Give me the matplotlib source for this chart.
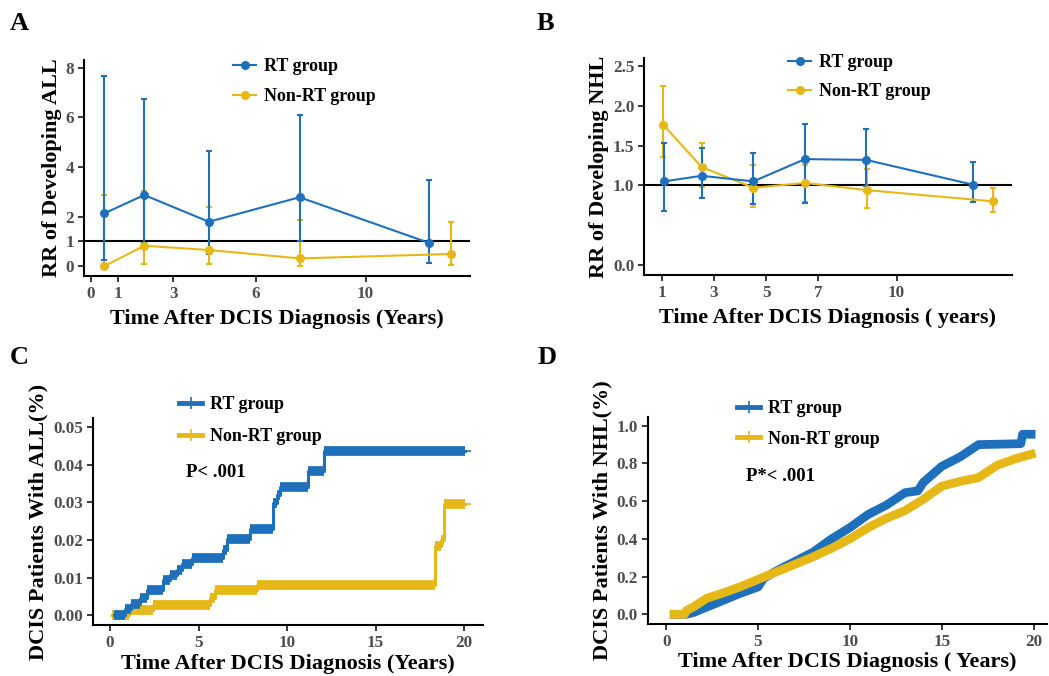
import numpy as np
import matplotlib
matplotlib.use("Agg")
import matplotlib.pyplot as plt
from matplotlib.lines import Line2D

plt.rcParams["font.family"] = ["Liberation Serif", "DejaVu Serif"]
plt.rcParams["font.weight"] = "bold"

BLUE = "#1F70BC"
YELLOW = "#E6B817"
TICK_GREY = "#4D4D4D"

# Panel A: RR of developing ALL
a_x_rt = [0.5, 1.95, 4.3, 7.6, 12.3]
a_rr_rt = [2.13, 2.87, 1.79, 2.78, 0.94]
a_lo_rt = [0.24, 0.94, 0.49, 1.03, 0.11]
a_hi_rt = [7.69, 6.75, 4.63, 6.09, 3.48]
a_x_non = [0.5, 1.95, 4.3, 7.6, 13.1]
a_rr_non = [0.0, 0.82, 0.65, 0.31, 0.49]
a_lo_non = [0.0, 0.08, 0.07, 0.0, 0.04]
a_hi_non = [2.87, 3.05, 2.40, 1.86, 1.79]
a_xticks = [0, 1, 3, 6, 10]
a_yticks = [0, 1, 2, 4, 6, 8]

# Panel B: RR of developing NHL
b_x_rt = [1.09, 2.53, 4.51, 6.49, 8.83, 12.91]
b_rr_rt = [1.05, 1.12, 1.05, 1.33, 1.32, 1.01]
b_lo_rt = [0.68, 0.84, 0.77, 0.78, 0.99, 0.79]
b_hi_rt = [1.53, 1.47, 1.41, 1.77, 1.71, 1.29]
b_x_non = [1.06, 2.53, 4.51, 6.49, 8.86, 13.68]
b_rr_non = [1.76, 1.23, 0.97, 1.03, 0.94, 0.80]
b_lo_non = [1.36, 0.98, 0.73, 0.79, 0.72, 0.66]
b_hi_non = [2.25, 1.53, 1.26, 1.25, 1.21, 0.97]
b_xticks = [1, 3, 5, 7, 10]
b_yticks = [0.0, 1.0, 1.5, 2.0, 2.5]

# Panel C: cumulative incidence of ALL (step curves)
c_t_rt = [0.2, 0.85, 1.2, 1.7, 2.07, 3.0, 3.4, 3.76, 4.05, 4.6, 6.4, 6.6, 7.9,
          9.2, 9.4, 9.6, 11.2, 12.1, 20.05]
c_y_rt = [0.0, 0.0016, 0.003, 0.0045, 0.0066, 0.0094, 0.0107, 0.012, 0.0135,
          0.0153, 0.0173, 0.0202, 0.0229, 0.0297, 0.032, 0.0341, 0.0383,
          0.0436, 0.0436]
c_t_non = [0.1, 1.05, 2.4, 5.65, 5.9, 8.3, 18.35, 18.7, 18.85, 20.05]
c_y_non = [0.0, 0.0013, 0.0027, 0.0045, 0.0066, 0.0081, 0.0185, 0.0200,
           0.0295, 0.0295]
c_xticks = [0, 5, 10, 15, 20]
c_yticks = [0.00, 0.01, 0.02, 0.03, 0.04, 0.05]

# Panel D: cumulative incidence of NHL
d_t_rt = [0.2, 1.1, 1.5, 2.0, 3.0, 4.0, 5.0, 5.3, 6.0, 7.0, 8.0, 9.0, 10.0,
          11.0, 12.0, 13.0, 13.7, 14.0, 15.0, 16.0, 17.0, 19.3, 19.4, 20.1]
d_y_rt = [0.0, 0.0, 0.01, 0.03, 0.07, 0.11, 0.145, 0.19, 0.23, 0.28, 0.33,
          0.40, 0.46, 0.53, 0.58, 0.645, 0.655, 0.70, 0.785, 0.835, 0.90,
          0.905, 0.955, 0.955]
d_t_non = [0.2, 1.0, 1.1, 1.5, 2.2, 3.0, 4.0, 5.0, 6.0, 7.0, 8.0, 9.0, 10.0,
           11.0, 12.0, 13.0, 14.0, 15.0, 16.0, 17.0, 18.0, 19.0, 20.1]
d_y_non = [0.0, 0.0, 0.02, 0.04, 0.085, 0.11, 0.145, 0.185, 0.225, 0.265,
           0.305, 0.35, 0.40, 0.46, 0.51, 0.55, 0.61, 0.68, 0.705, 0.725,
           0.79, 0.825, 0.855]
d_xticks = [0, 5, 10, 15, 20]
d_yticks = [0.0, 0.2, 0.4, 0.6, 0.8, 1.0]


def style_axes(ax, xticks, yticks, yfmt, xlabel, ylabel, xpad=5):
    """Classic ggplot-like look: only left and bottom spines, grey labels."""
    for side in ["top", "right"]:
        ax.spines[side].set_visible(False)
    for side in ["left", "bottom"]:
        ax.spines[side].set_linewidth(1.5)
    ax.set_xticks(xticks)
    ax.set_yticks(yticks)
    ax.set_yticklabels([yfmt.format(v) for v in yticks])
    ax.tick_params(length=4, width=1.1, colors="black", labelcolor=TICK_GREY,
                   labelsize=12.3, pad=3)
    for lab in ax.get_xticklabels() + ax.get_yticklabels():
        lab.set_fontweight("bold")
    ax.set_xlabel(xlabel, fontsize=16, fontweight="bold", labelpad=xpad)
    ax.set_ylabel(ylabel, fontsize=16, fontweight="bold", labelpad=3)


def plot_rr(ax, x, rr, lo, hi, color):
    """Line with points and asymmetric error bars."""
    rr = np.asarray(rr)
    yerr = [rr - np.asarray(lo), np.asarray(hi) - rr]
    ax.errorbar(x, rr, yerr=yerr, color=color, marker="o", markersize=5.5,
                linewidth=1.5, elinewidth=1.5, capsize=2.5, capthick=1.5,
                zorder=3)


def plot_km(ax, t, y, color, step=True):
    """Thick cumulative incidence curve: thick flat parts, thin risers."""
    if step:
        ax.step(t, y, where="post", color=color, linewidth=2.2, zorder=3)
        ax.hlines(y[:-1], t[:-1], t[1:], color=color, linewidth=7, zorder=3)
        ax.plot([t[-1]], [y[-1]], marker="_", markersize=9, mew=1.2,
                color=color, zorder=3)
    else:
        ax.plot(t, y, color=color, linewidth=6.3, zorder=3,
                solid_capstyle="butt")


fig = plt.figure(figsize=(10.49, 6.76), dpi=100)

ax_a = fig.add_axes([0.0801, 0.5917, 0.368, 0.3195])
ax_b = fig.add_axes([0.6139, 0.5932, 0.3508, 0.321])
ax_c = fig.add_axes([0.0884, 0.0754, 0.372, 0.306])
ax_d = fig.add_axes([0.6175, 0.0770, 0.381, 0.306])

# A
ax_a.axhline(1, color="black", linewidth=1.5, zorder=1)
plot_rr(ax_a, a_x_non, a_rr_non, a_lo_non, a_hi_non, YELLOW)
plot_rr(ax_a, a_x_rt, a_rr_rt, a_lo_rt, a_hi_rt, BLUE)
ax_a.set_xlim(-0.24, 13.8)
ax_a.set_ylim(-0.40, 8.32)
style_axes(ax_a, a_xticks, a_yticks, "{:g}",
           "Time After DCIS Diagnosis (Years)", "RR of Developing ALL")

# B
ax_b.axhline(1, color="black", linewidth=1.5, zorder=1)
plot_rr(ax_b, b_x_non, b_rr_non, b_lo_non, b_hi_non, YELLOW)
plot_rr(ax_b, b_x_rt, b_rr_rt, b_lo_rt, b_hi_rt, BLUE)
ax_b.set_xlim(0.32, 14.42)
ax_b.set_ylim(-0.126, 2.6)
style_axes(ax_b, b_xticks, b_yticks, "{:.1f}",
           "Time After DCIS Diagnosis ( years)", "RR of Developing NHL")

# C
plot_km(ax_c, c_t_non, c_y_non, YELLOW)
plot_km(ax_c, c_t_rt, c_y_rt, BLUE)
ax_c.set_xlim(-0.98, 21.06)
ax_c.set_ylim(-0.00257, 0.0523)
style_axes(ax_c, c_xticks, c_yticks, "{:.2f}",
           "Time After DCIS Diagnosis (Years)", "DCIS Patients With ALL(%)",
           xpad=2)
ax_c.text(0.239, 0.739, "P< .001", transform=ax_c.transAxes, fontsize=13.5,
          fontweight="bold", va="center")

# D
plot_km(ax_d, d_t_rt, d_y_rt, BLUE, step=False)
plot_km(ax_d, d_t_non, d_y_non, YELLOW, step=False)
ax_d.set_xlim(-1.0, 20.75)
ax_d.set_ylim(-0.051, 1.046)
style_axes(ax_d, d_xticks, d_yticks, "{:.1f}",
           "Time After DCIS Diagnosis ( Years)", "DCIS Patients With NHL(%)",
           xpad=2)
ax_d.text(0.246, 0.715, "P*< .001", transform=ax_d.transAxes, fontsize=13.5,
          fontweight="bold", va="center")

# Legends
rr_handles = [
    Line2D([], [], color=BLUE, marker="o", markersize=5.5, linewidth=1.5),
    Line2D([], [], color=YELLOW, marker="o", markersize=5.5, linewidth=1.5),
]
km_handles = [
    Line2D([], [], color=BLUE, marker="+", markersize=9, mew=1.2,
           linewidth=3.5),
    Line2D([], [], color=YELLOW, marker="+", markersize=9, mew=1.2,
           linewidth=3.5),
]
labels = ["RT group", "Non-RT group"]
leg_kw = dict(frameon=False, fontsize=13, handlelength=1.3, handletextpad=0.4,
              borderaxespad=0, borderpad=0)
for ax, handles, pos, spacing in [
    (ax_a, rr_handles, (233 / 1049, 1 - 58 / 676), 0.72),
    (ax_b, rr_handles, (788 / 1049, 1 - 54 / 676), 0.68),
    (ax_c, km_handles, (179 / 1049, 1 - 396 / 676), 0.85),
    (ax_d, km_handles, (737 / 1049, 1 - 400 / 676), 0.75),
]:
    leg = ax.legend(handles, labels, loc="upper left", bbox_to_anchor=pos,
                    bbox_transform=fig.transFigure, labelspacing=spacing,
                    **leg_kw)
    for txt in leg.get_texts():
        txt.set_fontweight("bold")

# Panel letters
for letter, x, y in [("A", 10, 12), ("B", 537, 12), ("C", 10, 346),
                     ("D", 538, 346)]:
    fig.text(x / 1049, 1 - y / 676, letter, fontsize=19, fontweight="bold",
             va="top", ha="left")

fig.savefig("out.png", dpi=100)
